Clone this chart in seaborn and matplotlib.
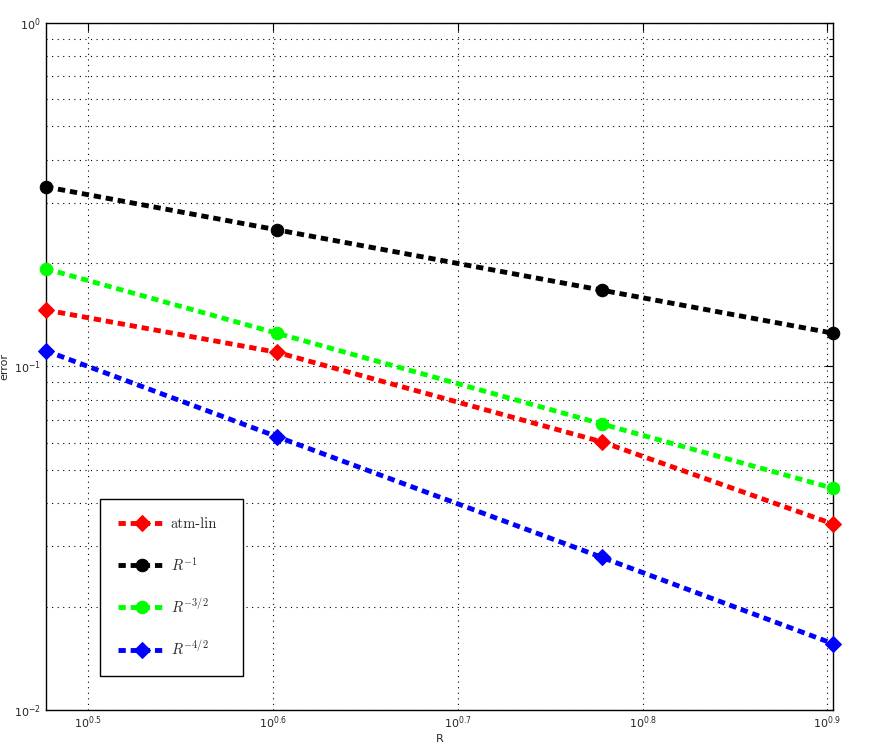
import numpy as np
import pandas as pd
import seaborn as sns
import matplotlib
matplotlib.use('Agg')
import matplotlib.pyplot as plt
from matplotlib.ticker import FixedLocator, FuncFormatter, LogLocator, NullLocator, NullFormatter
from matplotlib.font_manager import FontProperties


R = [3, 4, 6, 8]
atm_lin = [0.146, 0.110, 0.0603, 0.0348]
r_m1 = [0.3333, 0.25, 0.1667, 0.125]
r_m32 = [0.1925, 0.125, 0.0680, 0.0442]
r_m42 = [0.1111, 0.0625, 0.0278, 0.0156]

LABELS = ['atm-lin', r'$R^{-1}$', r'$R^{-3/2}$', r'$R^{-4/2}$']
COLORS = ['#ff0000', '#000000', '#00ff00', '#0000ff']
MARKERS = ['D', 'o', 'o', 'D']
XTICKS = [0.5, 0.6, 0.7, 0.8, 0.9]


sns.set_style("white")
plt.rcParams['font.family'] = ['DejaVu Sans']

fig = plt.figure(figsize=(8.71, 7.44), dpi=100)
ax = fig.add_axes([0.0528, 0.0457, 0.9036, 0.9234])

series = [atm_lin, r_m1, r_m32, r_m42]
for vals, lab, col, mk in zip(series, LABELS, COLORS, MARKERS):
    df = pd.DataFrame({'R': R, 'err': vals})
    sns.lineplot(data=df, x='R', y='err', ax=ax, color=col, marker=mk,
                 markersize=9 if mk == 'o' else 8.5, markeredgecolor=col,
                 linewidth=3.5, linestyle=(0, (1.5, 1.0)), label=lab,
                 clip_on=False, zorder=3)

ax.set_xscale('log')
ax.set_yscale('log')
ax.set_xlim(3, 8)
ax.set_ylim(1e-2, 1)

ax.xaxis.set_major_locator(FixedLocator([10 ** t for t in XTICKS]))
ax.xaxis.set_major_formatter(FuncFormatter(
    lambda v, p: r'$10^{%.1f}$' % np.log10(v)))
ax.xaxis.set_minor_locator(NullLocator())
ax.xaxis.set_minor_formatter(NullFormatter())

ax.yaxis.set_major_locator(LogLocator(base=10, numticks=10))
ax.yaxis.set_minor_locator(LogLocator(base=10, subs=np.arange(2, 10), numticks=20))
ax.yaxis.set_minor_formatter(NullFormatter())
ax.yaxis.set_major_formatter(FuncFormatter(
    lambda v, p: r'$10^{%d}$' % round(np.log10(v))))

ax.grid(True, which='major', axis='both', color='black', linestyle=(0, (1, 4)), linewidth=0.8)
ax.grid(True, which='minor', axis='y', color='black', linestyle=(0, (1, 4)), linewidth=0.8)

ax.tick_params(axis='both', which='both', direction='in', top=True, right=True,
               labelsize=8, width=0.8, color='black')
ax.tick_params(which='major', length=6)
ax.tick_params(which='minor', length=3)
for s in ax.spines.values():
    s.set_color('black')
    s.set_linewidth(1.0)

ax.set_xlabel('R', fontsize=8, labelpad=2)
ax.set_ylabel('error', fontsize=8)
ax.yaxis.set_label_coords(-0.046, 0.5)

leg_font = FontProperties(family='cmr10', math_fontfamily='cm', size=10.5)
leg = ax.legend(loc='lower left', bbox_to_anchor=(0.0686, 0.0495, 0.1817, 0.26),
                mode='expand', prop=leg_font,
                frameon=True, fancybox=False, edgecolor='black', framealpha=1,
                labelspacing=1.65, handlelength=3.2, borderpad=1.25,
                handletextpad=0.4, borderaxespad=0)
leg.get_frame().set_linewidth(1.0)

fig.savefig('out.png', dpi=100)
